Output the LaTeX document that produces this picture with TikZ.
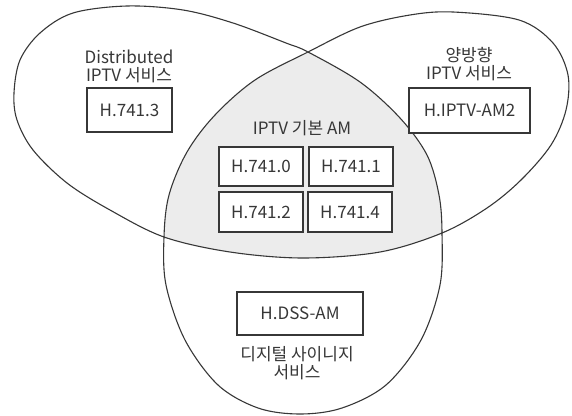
\documentclass[tikz,border=0pt]{standalone}
\usepackage{fontspec}
\setmainfont{Noto Sans CJK KR}
\definecolor{ink}{RGB}{55,55,55}
\definecolor{shade}{RGB}{236,236,236}
\begin{document}
\begin{tikzpicture}[x=1pt,y=-1pt,
  lbl/.style={text=ink,font=\fontsize{17}{18}\selectfont,align=center,inner sep=0pt},
  boxnode/.style={draw=ink,line width=1.2pt,fill=white,text=ink,font=\fontsize{17}{18}\selectfont,inner sep=0pt,anchor=center},
  outline/.style={draw=ink,line width=1.1pt}]
\useasboundingbox (0,0) rectangle (572,415);
\def\trefoil{plot[smooth cycle,tension=0.55] coordinates {
 (14,93) (20,60) (40,33) (73,13) (127,6) (183,10) (233,23) (286,43) (308,52)
 (360,82) (400,118) (427,155) (439,195) (442,233)
 (440,285) (421,340) (386,385) (342,408) (300,414) (258,408) (218,385) (185,340) (166,285) (164,237)
 (169,195) (187,152) (215,115) (255,80) (308,52)
 (360,27) (410,15) (453,12) (519,20) (553,43) (568,75) (566,110) (551,145) (521,180) (487,208) (442,233)
 (380,252) (303,258) (230,252) (164,237)
 (110,210) (67,183) (33,150) (17,120)}}
\path[fill=shade] \trefoil;
\path[fill=white,even odd rule] \trefoil;
\path[outline] \trefoil;
\node[lbl] (t1) at (129,66) {Distributed\\IPTV 서비스};
\node[boxnode,minimum width=85pt,minimum height=44pt] (b1) at (129.5,110) {H.741.3};
\node[lbl] (t2) at (469,64) {양방향\\IPTV 서비스};
\node[boxnode,minimum width=121pt,minimum height=45pt] (b2) at (469.5,110.5) {H.IPTV-AM2};
\node[lbl] (t3) at (302,128) {IPTV 기본 AM};
\node[boxnode,minimum width=84pt,minimum height=39pt] (c0) at (261,166.5) {H.741.0};
\node[boxnode,minimum width=84pt,minimum height=39pt] (c1) at (351,166.5) {H.741.1};
\node[boxnode,minimum width=84pt,minimum height=40pt] (c2) at (261,212) {H.741.2};
\node[boxnode,minimum width=84pt,minimum height=40pt] (c3) at (350,212) {H.741.4};
\node[boxnode,minimum width=126pt,minimum height=43pt] (b3) at (300,313.5) {H.DSS-AM};
\node[lbl] (t4) at (297,363) {디지털 사이니지\\서비스};
\end{tikzpicture}
\end{document}
